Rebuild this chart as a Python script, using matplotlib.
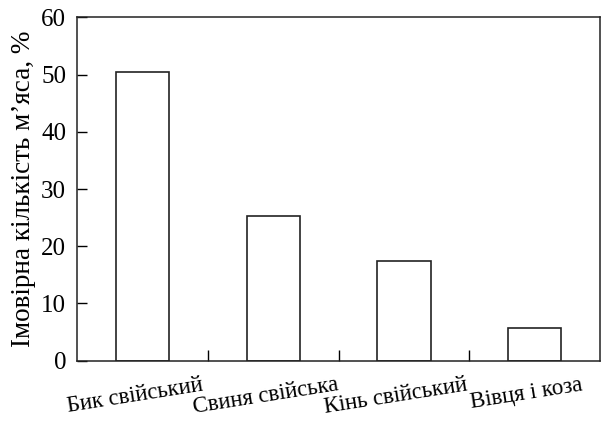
import matplotlib
matplotlib.use('Agg')
import matplotlib.pyplot as plt
import matplotlib.transforms as mtransforms
import numpy as np

# Data
categories = ['Бик свійський', 'Свиня свійська', 'Кінь свійський', 'Вівця і коза']
values = [50.4, 25.3, 17.5, 5.8]
y_ticks = [0, 10, 20, 30, 40, 50, 60]

plt.rcParams['font.family'] = ['Liberation Serif', 'DejaVu Serif']

fig = plt.figure(figsize=(6.03, 4.24), dpi=100)
ax = fig.add_axes([77.3 / 603, 1 - 360.7 / 424, (600 - 77.3) / 603, (360.7 - 17.3) / 424])

x = np.arange(len(categories))
ax.bar(x, values, width=0.41, facecolor='white', edgecolor='#222222', linewidth=1.2)

ax.set_xlim(-0.5, len(categories) - 0.5)
ax.set_ylim(0, 60)
ax.set_yticks(y_ticks)
ax.tick_params(axis='y', direction='in', length=7, width=1, labelsize=18, pad=8)

# boundary ticks between categories, labels at bar centres
ax.set_xticks(x[:-1] + 0.5)
ax.set_xticklabels([])
ax.tick_params(axis='x', which='major', direction='in', length=8, width=1)
ax.set_xticks(x, minor=True)
ax.set_xticklabels(categories, minor=True, rotation=9, ha='center', fontsize=16.5)
ax.tick_params(axis='x', which='minor', length=0, pad=10)
offset = mtransforms.ScaledTranslation(-8 / 100, 0, fig.dpi_scale_trans)
for lab in ax.get_xticklabels(minor=True):
    lab.set_transform(lab.get_transform() + offset)

for s in ax.spines.values():
    s.set_linewidth(1.1)
    s.set_color('#222222')

ax.set_ylabel('Імовірна кількість м’яса, %', fontsize=19.5, labelpad=4)

fig.savefig('out.png', dpi=100)
